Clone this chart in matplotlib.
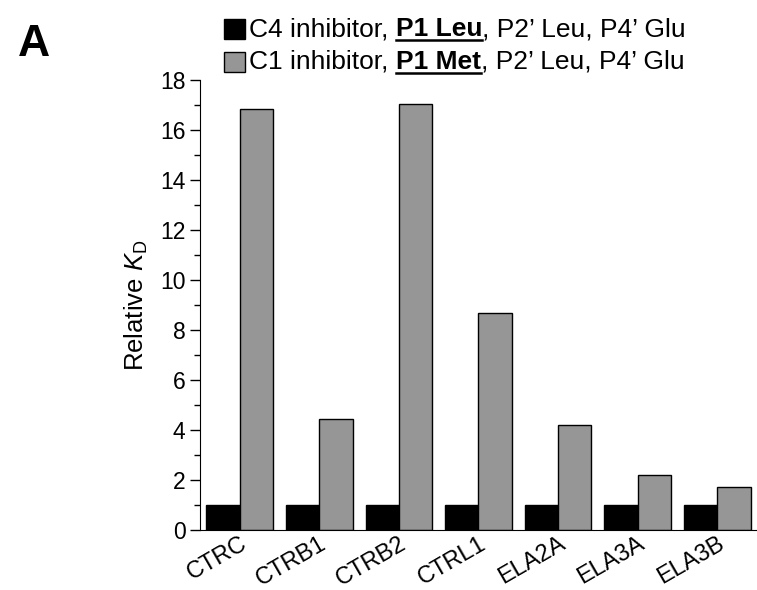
import numpy as np
import matplotlib
matplotlib.use("Agg")
import matplotlib.pyplot as plt
from matplotlib.ticker import MultipleLocator
from matplotlib.patches import Rectangle

plt.rcParams['font.family'] = ['Liberation Sans', 'DejaVu Sans']
plt.rcParams['mathtext.fontset'] = 'custom'
plt.rcParams['mathtext.rm'] = 'Liberation Sans'
plt.rcParams['mathtext.it'] = 'Liberation Sans:italic'

# data
enzymes = ["CTRC", "CTRB1", "CTRB2", "CTRL1", "ELA2A", "ELA3A", "ELA3B"]
c4_leu = [1, 1, 1, 1, 1, 1, 1]
c1_met = [16.85, 4.42, 17.05, 8.7, 4.2, 2.2, 1.72]
gray = "#969696"

fig = plt.figure(figsize=(7.57, 5.9), dpi=100)
ax = fig.add_axes([0.2642, 0.1017, 0.7358, 0.7627])

x = np.arange(len(enzymes))
w = 0.42
ax.bar(x - w / 2, c4_leu, w, color="black", edgecolor="black", linewidth=1)
ax.bar(x + w / 2, c1_met, w, color=gray, edgecolor="black", linewidth=1)

ax.set_xlim(-0.5, len(enzymes) - 0.5)
ax.set_ylim(0, 18)
ax.yaxis.set_major_locator(MultipleLocator(2))
ax.yaxis.set_minor_locator(MultipleLocator(1))
ax.tick_params(axis="y", which="major", length=7, width=1, labelsize=16.5, direction="out")
ax.tick_params(axis="y", which="minor", length=4, width=1)
ax.set_xticks(x)
ax.set_xticklabels(enzymes, rotation=30, ha="right", rotation_mode="anchor", fontsize=17)
ax.tick_params(axis="x", length=0, pad=2)
for s in ["top", "right"]:
    ax.spines[s].set_visible(False)
ax.set_ylabel(r"Relative $\mathit{K}_\mathrm{D}$", fontsize=18.5, labelpad=7)

fig.text(0.024, 0.905, "A", fontsize=32, fontweight="bold")

# legend with bold underlined part, drawn by hand
legend_rows = [
    ("black", ["C4 inhibitor, ", "P1 Leu", ", P2\u2019 Leu, P4\u2019 Glu"]),
    (gray, ["C1 inhibitor, ", "P1 Met", ", P2\u2019 Leu, P4\u2019 Glu"]),
]
fig.canvas.draw()
r = fig.canvas.get_renderer()
W, H = fig.get_size_inches() * fig.dpi
for i, (col, parts) in enumerate(legend_rows):
    yc = 561 - i * 33  # pixel y center from bottom
    fig.patches.append(Rectangle((224 / W, (yc - 10) / H), 21 / W, 20 / H,
                                 facecolor=col, edgecolor="black", linewidth=1,
                                 transform=fig.transFigure, figure=fig))
    xp = 249
    for j, p in enumerate(parts):
        t = fig.text(xp / W, (yc - 7) / H, p, fontsize=19, va="baseline",
                     fontweight="bold" if j == 1 else "normal")
        bb = t.get_window_extent(r)
        if j == 1:
            fig.add_artist(plt.Line2D([bb.x0 / W, bb.x1 / W], [(yc - 11) / H] * 2,
                                      color="black", linewidth=1.8,
                                      transform=fig.transFigure))
        xp = bb.x1

fig.savefig("out.png", dpi=100)
